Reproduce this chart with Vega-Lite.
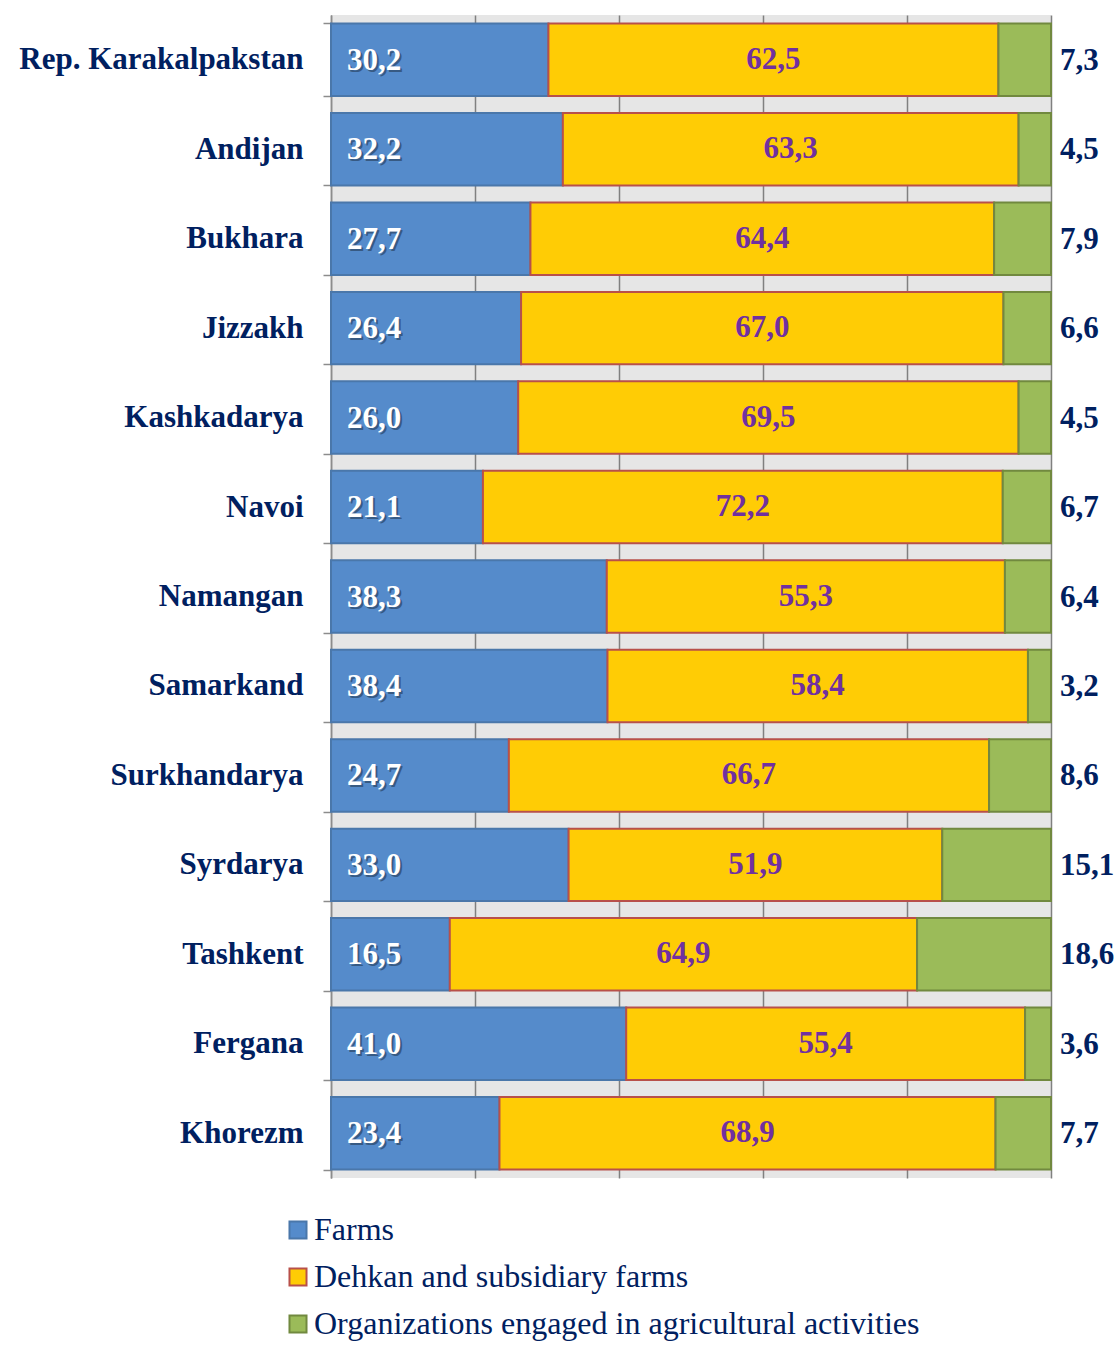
{
  "$schema": "https://vega.github.io/schema/vega-lite/v6.json",
  "width": 720,
  "height": 1163,
  "autosize": {"type": "none"},
  "padding": {"left": 331, "top": 15, "right": 66, "bottom": 167},
  "background": "white",
  "config": {
    "view": {"fill": "#e6e6e6", "stroke": null},
    "locale": {"number": {"decimal": ",", "thousands": " ", "grouping": [3], "currency": ["", ""]}},
    "font": "Liberation Serif"
  },
  "data": {
    "values": [
      {"region": "Rep. Karakalpakstan", "type": "Farms", "value": 30.2},
      {"region": "Rep. Karakalpakstan", "type": "Dehkan and subsidiary farms", "value": 62.5},
      {"region": "Rep. Karakalpakstan", "type": "Organizations engaged in agricultural activities", "value": 7.3},
      {"region": "Andijan", "type": "Farms", "value": 32.2},
      {"region": "Andijan", "type": "Dehkan and subsidiary farms", "value": 63.3},
      {"region": "Andijan", "type": "Organizations engaged in agricultural activities", "value": 4.5},
      {"region": "Bukhara", "type": "Farms", "value": 27.7},
      {"region": "Bukhara", "type": "Dehkan and subsidiary farms", "value": 64.4},
      {"region": "Bukhara", "type": "Organizations engaged in agricultural activities", "value": 7.9},
      {"region": "Jizzakh", "type": "Farms", "value": 26.4},
      {"region": "Jizzakh", "type": "Dehkan and subsidiary farms", "value": 67.0},
      {"region": "Jizzakh", "type": "Organizations engaged in agricultural activities", "value": 6.6},
      {"region": "Kashkadarya", "type": "Farms", "value": 26.0},
      {"region": "Kashkadarya", "type": "Dehkan and subsidiary farms", "value": 69.5},
      {"region": "Kashkadarya", "type": "Organizations engaged in agricultural activities", "value": 4.5},
      {"region": "Navoi", "type": "Farms", "value": 21.1},
      {"region": "Navoi", "type": "Dehkan and subsidiary farms", "value": 72.2},
      {"region": "Navoi", "type": "Organizations engaged in agricultural activities", "value": 6.7},
      {"region": "Namangan", "type": "Farms", "value": 38.3},
      {"region": "Namangan", "type": "Dehkan and subsidiary farms", "value": 55.3},
      {"region": "Namangan", "type": "Organizations engaged in agricultural activities", "value": 6.4},
      {"region": "Samarkand", "type": "Farms", "value": 38.4},
      {"region": "Samarkand", "type": "Dehkan and subsidiary farms", "value": 58.4},
      {"region": "Samarkand", "type": "Organizations engaged in agricultural activities", "value": 3.2},
      {"region": "Surkhandarya", "type": "Farms", "value": 24.7},
      {"region": "Surkhandarya", "type": "Dehkan and subsidiary farms", "value": 66.7},
      {"region": "Surkhandarya", "type": "Organizations engaged in agricultural activities", "value": 8.6},
      {"region": "Syrdarya", "type": "Farms", "value": 33.0},
      {"region": "Syrdarya", "type": "Dehkan and subsidiary farms", "value": 51.9},
      {"region": "Syrdarya", "type": "Organizations engaged in agricultural activities", "value": 15.1},
      {"region": "Tashkent", "type": "Farms", "value": 16.5},
      {"region": "Tashkent", "type": "Dehkan and subsidiary farms", "value": 64.9},
      {"region": "Tashkent", "type": "Organizations engaged in agricultural activities", "value": 18.6},
      {"region": "Fergana", "type": "Farms", "value": 41.0},
      {"region": "Fergana", "type": "Dehkan and subsidiary farms", "value": 55.4},
      {"region": "Fergana", "type": "Organizations engaged in agricultural activities", "value": 3.6},
      {"region": "Khorezm", "type": "Farms", "value": 23.4},
      {"region": "Khorezm", "type": "Dehkan and subsidiary farms", "value": 68.9},
      {"region": "Khorezm", "type": "Organizations engaged in agricultural activities", "value": 7.7}
    ]
  },
  "transform": [
    {"calculate": "indexof(['Farms','Dehkan and subsidiary farms','Organizations engaged in agricultural activities'], datum.type)", "as": "typeOrder"}
  ],
  "encoding": {
    "y": {
      "field": "region",
      "type": "nominal",
      "sort": null,
      "scale": {"paddingInner": 0.19, "paddingOuter": 0.095},
      "axis": {
        "title": null,
        "labelFont": "Liberation Serif",
        "labelFontWeight": "bold",
        "labelFontSize": 31,
        "labelColor": "#002060",
        "labelPadding": 20,
        "labelLimit": 500,
        "tickBand": "extent",
        "tickSize": 8,
        "tickColor": "#8c8c8c",
        "tickWidth": 1.5,
        "domainColor": "#8c8c8c",
        "domainWidth": 1.5,
        "grid": false
      }
    }
  },
  "layer": [
    {
      "mark": {"type": "bar", "strokeWidth": 2},
      "encoding": {
        "x": {
          "field": "value",
          "type": "quantitative",
          "stack": "zero",
          "scale": {"domain": [0, 100], "nice": false},
          "axis": {
            "values": [0, 20, 40, 60, 80, 100],
            "labels": false,
            "ticks": false,
            "domain": false,
            "title": null,
            "grid": true,
            "gridColor": "#808080",
            "gridWidth": 1.5
          }
        },
        "order": {"field": "typeOrder"},
        "color": {
          "field": "type",
          "type": "nominal",
          "sort": ["Farms", "Dehkan and subsidiary farms", "Organizations engaged in agricultural activities"],
          "scale": {
            "domain": ["Farms", "Dehkan and subsidiary farms", "Organizations engaged in agricultural activities"],
            "range": ["#558bcb", "#ffcc05", "#9bbb59"]
          },
          "legend": {
            "title": null,
            "orient": "none",
            "legendX": -49,
            "legendY": 1199,
            "direction": "vertical",
            "symbolType": "square",
            "symbolSize": 290,
            "symbolStrokeWidth": 2,
            "symbolOpacity": 1,
            "labelFont": "Liberation Serif",
            "labelFontSize": 32,
            "labelColor": "#002060",
            "labelOffset": 0,
            "labelLimit": 900,
            "rowPadding": 15,
            "padding": 0
          }
        },
        "stroke": {
          "field": "type",
          "type": "nominal",
          "sort": ["Farms", "Dehkan and subsidiary farms", "Organizations engaged in agricultural activities"],
          "scale": {
            "domain": ["Farms", "Dehkan and subsidiary farms", "Organizations engaged in agricultural activities"],
            "range": ["#4a77aa", "#b8504a", "#71893f"]
          },
          "legend": {
            "title": null,
            "orient": "none",
            "legendX": -49,
            "legendY": 1199,
            "direction": "vertical",
            "symbolType": "square",
            "symbolSize": 290,
            "symbolStrokeWidth": 2,
            "labelFont": "Liberation Serif",
            "labelFontSize": 32,
            "labelColor": "#002060",
            "labelOffset": 0,
            "labelLimit": 900,
            "rowPadding": 15,
            "padding": 0
          }
        }
      }
    },
    {
      "transform": [{"filter": "datum.type === 'Farms'"}],
      "mark": {"type": "text", "align": "left", "baseline": "middle", "dx": 18, "dy": 3, "fontSize": 31, "fontWeight": "bold", "font": "Liberation Serif", "color": "#000000", "opacity": 0.35},
      "encoding": {
        "x": {"datum": 0, "type": "quantitative"},
        "text": {"field": "value", "type": "quantitative", "format": ".1f"}
      }
    },
    {
      "transform": [{"filter": "datum.type === 'Farms'"}],
      "mark": {"type": "text", "align": "left", "baseline": "middle", "dx": 16, "dy": 1, "fontSize": 31, "fontWeight": "bold", "font": "Liberation Serif", "color": "#ffffff"},
      "encoding": {
        "x": {"datum": 0, "type": "quantitative"},
        "text": {"field": "value", "type": "quantitative", "format": ".1f"}
      }
    },
    {
      "mark": {"type": "text", "align": "center", "baseline": "middle", "dy": 0, "fontSize": 31, "fontWeight": "bold", "font": "Liberation Serif", "color": "#7030a0"},
      "encoding": {
        "x": {"field": "value", "type": "quantitative", "stack": "zero", "bandPosition": 0.5},
        "order": {"field": "typeOrder"},
        "detail": {"field": "type", "type": "nominal"},
        "text": {"field": "value", "type": "quantitative", "format": ".1f"},
        "opacity": {"condition": {"test": "datum.type === 'Dehkan and subsidiary farms'", "value": 1}, "value": 0}
      }
    },
    {
      "transform": [{"filter": "datum.type === 'Organizations engaged in agricultural activities'"}],
      "mark": {"type": "text", "align": "left", "baseline": "middle", "dx": 9, "dy": 1, "fontSize": 31, "fontWeight": "bold", "font": "Liberation Serif", "color": "#002060"},
      "encoding": {
        "x": {"datum": 100, "type": "quantitative"},
        "text": {"field": "value", "type": "quantitative", "format": ".1f"}
      }
    }
  ]
}
